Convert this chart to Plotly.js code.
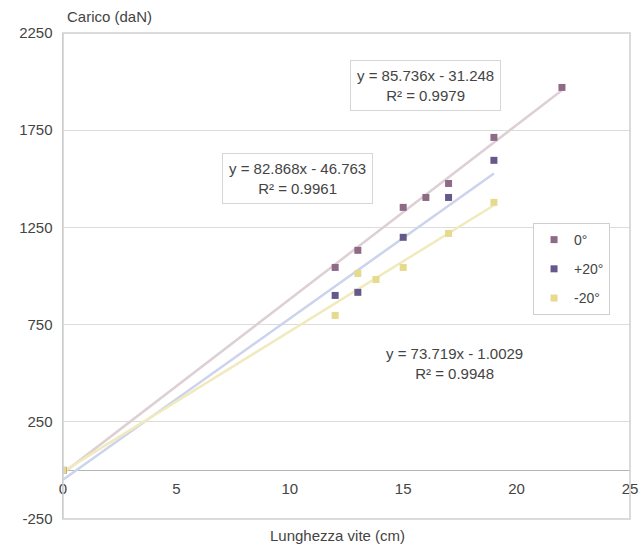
<!DOCTYPE html>
<html>
<head>
<meta charset="utf-8">
<script src="https://cdn.plot.ly/plotly-3.0.1.min.js"></script>
<style>html,body{margin:0;padding:0;background:#fff;}#chart{width:643px;height:545px;}</style>
</head>
<body>
<div id="chart"></div>
<script>
// ---- data ----
const seriesNames = ["0°", "+20°", "-20°"];
const x0 = [0, 12, 13, 15, 16, 17, 19, 22];
const y0 = [0, 1044, 1132, 1353, 1404, 1476, 1713, 1970];
const xPlus = [0, 12, 13, 15, 17, 19];
const yPlus = [0, 900, 916, 1199, 1404, 1595];
const xMinus = [0, 12, 13, 13.8, 15, 17, 19];
const yMinus = [0, 797, 1013, 982, 1044, 1219, 1379];
const xTicks = [0, 5, 10, 15, 20, 25];
const yTicks = [-250, 250, 750, 1250, 1750, 2250];
const eqTexts = [
  "y = 85.736x - 31.248<br>R² = 0.9979",
  "y = 82.868x - 46.763<br>R² = 0.9961",
  "y = 73.719x - 1.0029<br>R² = 0.9948"
];
const xTitle = "Lunghezza vite (cm)";
const yTitle = "Carico (daN)";

// ---- styling ----
const markerColors = ["#8e6a86", "#65598c", "#e6da8e"];
const trendColors = ["#ddd0d4", "#ccd3ec", "#f0eabc"];
const FONT = "Liberation Sans, Arial, sans-serif";

function fit(xs, ys) {
  const n = xs.length;
  const mx = xs.reduce((a, b) => a + b, 0) / n;
  const my = ys.reduce((a, b) => a + b, 0) / n;
  let sxy = 0, sxx = 0;
  for (let i = 0; i < n; i++) { sxy += (xs[i] - mx) * (ys[i] - my); sxx += (xs[i] - mx) ** 2; }
  const m = sxy / sxx;
  return { m: m, b: my - m * mx };
}

const sets = [[x0, y0], [xPlus, yPlus], [xMinus, yMinus]];
const traces = [];
sets.forEach((s, i) => {
  const f = fit(s[0], s[1]);
  const xmin = Math.min(...s[0]), xmax = Math.max(...s[0]);
  traces.push({
    x: [xmin, xmax], y: [f.m * xmin + f.b, f.m * xmax + f.b],
    mode: "lines", line: { color: trendColors[i], width: 2.5 },
    showlegend: false, hoverinfo: "skip"
  });
});
sets.forEach((s, i) => {
  traces.push({
    x: s[0], y: s[1], name: seriesNames[i], mode: "markers", legendgroup: "g" + i,
    marker: { symbol: "square", size: 7, color: markerColors[i] }
  });
});

const layout = {
  width: 643, height: 545,
  margin: { l: 63, r: 13, t: 33, b: 26 },
  paper_bgcolor: "#fff", plot_bgcolor: "#fff",
  font: { family: FONT, size: 15, color: "#444" },
  xaxis: {
    range: [0, 25], tickvals: xTicks, ticktext: xTicks.map(String),
    anchor: "free", position: 0.1,
    showgrid: false, zeroline: false, showline: false,
    ticks: "", ticklabelstandoff: 8, tickfont: { size: 15, color: "#444" }
  },
  yaxis: {
    range: [-250, 2250], tickvals: yTicks, ticktext: yTicks.map(String),
    showgrid: true, gridcolor: "#dcdcdc", gridwidth: 1,
    zeroline: true, zerolinecolor: "#b5b5b5", zerolinewidth: 1.5,
    showline: true, linecolor: "#c0c0c0", linewidth: 1.5,
    ticks: "", ticklabelstandoff: 6, tickfont: { size: 15, color: "#444" }
  },
  showlegend: true,
  legend: {
    x: 0.829, y: 0.609, xanchor: "left", yanchor: "top",
    bgcolor: "#fff", bordercolor: "#cfcfcf", borderwidth: 1,
    font: { size: 14, color: "#444" }, tracegroupgap: 8, itemwidth: 30
  },
  shapes: [{
    type: "rect", xref: "paper", yref: "paper", x0: 0, x1: 1, y0: 0, y1: 1,
    line: { color: "#d0d0d0", width: 1.5 }
  }],
  annotations: [
    { text: yTitle, xref: "paper", yref: "paper", x: 0, y: 1, xanchor: "left", yanchor: "bottom",
      xshift: 2, yshift: 6, showarrow: false, font: { size: 15, color: "#444" } },
    { text: xTitle, xref: "paper", yref: "paper", x: 0.485, y: 0, xanchor: "center", yanchor: "top",
      yshift: -6, showarrow: false, font: { size: 15, color: "#444" } },
    { text: eqTexts[0], xref: "paper", yref: "paper", x: 0.64, y: 0.891, xanchor: "center", yanchor: "middle",
      showarrow: false, bgcolor: "#fff", bordercolor: "#d6d6d6", borderwidth: 1, borderpad: 6,
      font: { size: 15, color: "#444" } },
    { text: eqTexts[1], xref: "paper", yref: "paper", x: 0.414, y: 0.70, xanchor: "center", yanchor: "middle",
      showarrow: false, bgcolor: "#fff", bordercolor: "#d6d6d6", borderwidth: 1, borderpad: 6,
      font: { size: 15, color: "#444" } },
    { text: eqTexts[2], xref: "paper", yref: "paper", x: 0.691, y: 0.319, xanchor: "center", yanchor: "middle",
      showarrow: false, font: { size: 15, color: "#444" } }
  ]
};

Plotly.newPlot("chart", traces, layout, { displayModeBar: false, staticPlot: true });
</script>
</body>
</html>
